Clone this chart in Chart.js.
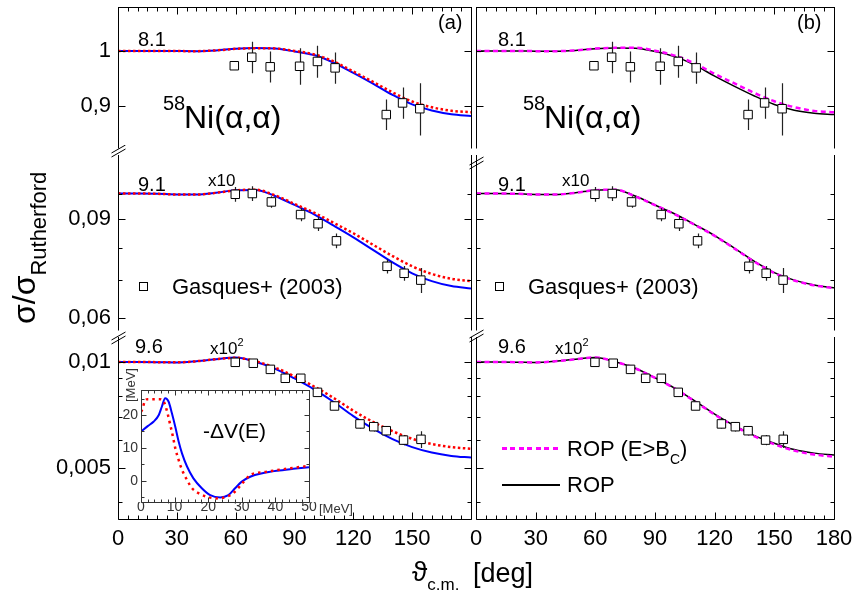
<!DOCTYPE html>
<html>
<head>
<meta charset="utf-8">
<title>58Ni(a,a)</title>
<script src="https://cdn.jsdelivr.net/npm/chart.js@4.4.1/dist/chart.umd.min.js"></script>
<style>
  body { margin: 0; background: #fff; }
  #wrap { position: relative; width: 855px; height: 599px; overflow: hidden;
          font-family: "Liberation Sans", Arial, Helvetica, sans-serif; color: #000; }
  #wrap canvas { position: absolute; }
  .t { position: absolute; white-space: nowrap; line-height: 1; transform: translateY(-50%); }
</style>
</head>
<body>
<div id="wrap"></div>
<script>
// angles of the calculated curves [deg]
const angles = [0, 10, 20, 30, 40, 50, 60, 70, 80, 90, 100, 110, 120, 130, 140, 150, 160, 170, 180];

// panel (a): blue solid and red dotted curves
const a81Blue = [1, 1, 1, 0.9997, 0.9995, 1.001, 1.0042, 1.0055, 1.0045, 0.9991, 0.9921, 0.9776, 0.9587, 0.9392, 0.9192, 0.9025, 0.8921, 0.8857, 0.8827];
const a81Red  = [1, 1, 1, 0.9997, 0.9996, 1.001, 1.0040, 1.0053, 1.0048, 1.0000, 0.9935, 0.9800, 0.9612, 0.9425, 0.9235, 0.9075, 0.8975, 0.8915, 0.8890];
const a91Blue = [0.1, 0.1, 0.0999, 0.0996, 0.0996, 0.1003, 0.1014, 0.1015, 0.0990, 0.0954, 0.0918, 0.0876, 0.0835, 0.0793, 0.0753, 0.0720, 0.0697, 0.0683, 0.0676];
const a91Red  = [0.1, 0.1, 0.0999, 0.0996, 0.0996, 0.1003, 0.1013, 0.1016, 0.0993, 0.0958, 0.0924, 0.0886, 0.0849, 0.0810, 0.0773, 0.0741, 0.0718, 0.0704, 0.0697];
const a96Blue = [0.01, 0.01, 0.00999, 0.00997, 0.01005, 0.01018, 0.01030, 0.01002, 0.00958, 0.00898, 0.00836, 0.00770, 0.00702, 0.00647, 0.00604, 0.00573, 0.00553, 0.00541, 0.00535];
const a96Red  = [0.01, 0.01, 0.00999, 0.00998, 0.01005, 0.01018, 0.01028, 0.01005, 0.00965, 0.00910, 0.00852, 0.00790, 0.00727, 0.00676, 0.00636, 0.00605, 0.00585, 0.00573, 0.00567];

// panel (b): ROP (black) and ROP (E>Bc) (magenta)
const b81Black = [1, 1, 1, 0.9996, 0.9995, 1.001, 1.0044, 1.0058, 1.0053, 0.9991, 0.9892, 0.9731, 0.9527, 0.9342, 0.9171, 0.9023, 0.8925, 0.8874, 0.8851];
const b81Pink  = [1, 1, 1, 0.9996, 0.9995, 1.001, 1.0045, 1.0060, 1.0062, 1.0005, 0.9910, 0.9760, 0.9570, 0.9395, 0.9224, 0.9079, 0.8977, 0.8913, 0.8890];
const b91Black = [0.1, 0.1, 0.0999, 0.0996, 0.0996, 0.1003, 0.1014, 0.1016, 0.0990, 0.0954, 0.0919, 0.0880, 0.0841, 0.0798, 0.0756, 0.0722, 0.0700, 0.0686, 0.0678];
const b91Pink  = [0.1, 0.1, 0.0999, 0.0996, 0.0996, 0.1003, 0.1014, 0.1016, 0.0989, 0.0953, 0.0918, 0.0879, 0.0840, 0.0797, 0.0755, 0.0721, 0.0699, 0.0685, 0.0677];
const b96Black = [0.01, 0.01, 0.00999, 0.00997, 0.01005, 0.01018, 0.01030, 0.01002, 0.00960, 0.00902, 0.00842, 0.00775, 0.00711, 0.00659, 0.00618, 0.00588, 0.00564, 0.00551, 0.00544];
const b96Pink  = [0.01, 0.01, 0.00999, 0.00997, 0.01005, 0.01018, 0.01030, 0.01002, 0.00960, 0.00901, 0.00840, 0.00773, 0.00709, 0.00657, 0.00615, 0.00584, 0.00560, 0.00546, 0.00538];

// Gasques+ (2003) data
const exp81Angle = [59.3, 68.2, 77.6, 92.6, 101.7, 110.7, 136.8, 145.1, 153.9];
const exp81Val   = [0.972, 0.988, 0.970, 0.971, 0.980, 0.968, 0.885, 0.905, 0.895];
const exp81Err   = [0.005, 0.030, 0.029, 0.034, 0.030, 0.029, 0.026, 0.027, 0.045];
const exp91Angle = [59.8, 68.5, 78.2, 93.1, 102.0, 111.4, 137.2, 145.9, 154.4];
const exp91Val   = [0.0997, 0.1000, 0.0966, 0.0917, 0.0883, 0.0823, 0.0741, 0.0720, 0.0700];
const exp91Err   = [0.0030, 0.0030, 0.0023, 0.0025, 0.0026, 0.0025, 0.0022, 0.0022, 0.0036];
const exp96Angle = [59.8, 69.0, 77.7, 85.3, 93.2, 101.7, 110.4, 123.4, 130.4, 136.8, 145.6, 154.5];
const exp96Val   = [0.00998, 0.00992, 0.00953, 0.00899, 0.00899, 0.00820, 0.00750, 0.00667, 0.00655, 0.00638, 0.00600, 0.00603];
const exp96Err   = [0.0002, 0.0002, 0.0002, 0.0002, 0.0002, 0.0002, 0.0002, 0.0002, 0.0002, 0.0002, 0.0002, 0.00033];

// inset -dV(E)
const dvBlueE = [0, 2, 3.8, 5.3, 6.2, 7.2, 8.2, 9.2, 10.2, 11.2, 12.2, 13.7, 15.6, 18.1, 20.6, 23.6, 26.0, 28.0, 30.0, 32.5, 36.4, 40.4, 45.3, 50];
const dvBlue  = [14.9, 16.6, 18.0, 20.0, 22.5, 25.1, 24.1, 20.5, 16.4, 11.9, 8.3, 4.3, 0.7, -2.3, -4.4, -5.1, -4.4, -2.3, -0.3, 1.2, 2.3, 3.0, 3.6, 4.1];
const dvRedE  = [0, 0.3, 1.2, 2.0, 5.5, 6.9, 7.9, 8.7, 9.5, 10.2, 11.2, 12.2, 13.7, 15.2, 17.1, 19.6, 22.5, 25.5, 27.5, 30, 32.5, 37.4, 42.4, 50];
const dvRed   = [21.0, 21.5, 24.3, 24.8, 24.8, 23.8, 20.5, 17.0, 13.4, 9.9, 6.3, 3.3, 0.2, -2.3, -3.8, -4.9, -5.4, -4.9, -3.8, -1.0, 1.7, 2.7, 3.5, 4.5];

// ticks
const xMajor = [0, 30, 60, 90, 120, 150, 180];
const xLabelsA = ['0', '30', '60', '90', '120', '150', ''];
const xLabelsB = ['0', '30', '60', '90', '120', '150', '180'];
const yTicks81 = [1, 0.9], yLabels81 = ['1', '0,9'];
const yTicks91 = [0.09, 0.06], yLabels91 = ['0,09', '0,06'], yMinor91 = [0.1, 0.08, 0.07];
const yTicks96 = [0.01, 0.005], yLabels96 = ['0,01', '0,005'], yMinor96 = [0.009, 0.008, 0.007, 0.006, 0.004];
const dvTicksX = [0, 10, 20, 30, 40, 50], dvLabelsX = ['0', '10', '20', '30', '40', '50'];
const dvTicksY = [0, 10, 20], dvLabelsY = ['0', '10', '20'], dvMinorY = [-5, 5, 15, 25];

const xMinor = [];
for (let v = 5; v < 180; v += 5) if (v % 30) xMinor.push(v);
const dvMinorX = [];
for (let v = 2; v < 50; v += 2) if (v % 10) dvMinorX.push(v);

const wrap = document.getElementById('wrap');
const fam = '"Liberation Sans", Arial, Helvetica, sans-serif';

// frame, inward ticks and axis breaks
const framePlugin = {
  id: 'frame',
  beforeDraw(chart) {
    const o = chart.canvas.$frame, a = chart.chartArea;
    if (o.fill) {
      chart.ctx.fillStyle = '#fff';
      chart.ctx.fillRect(a.left, a.top, a.right - a.left, a.bottom - a.top);
    }
  },
  afterDatasetsDraw(chart) {
    const o = chart.canvas.$frame, a = chart.chartArea, ctx = chart.ctx;
    const x = chart.scales.x, y = chart.scales.y;
    const L = Math.round(a.left) + 0.5, R = Math.round(a.right) + 0.5;
    const T = Math.round(a.top) + 0.5, B = Math.round(a.bottom) + 0.5;
    ctx.save();
    ctx.strokeStyle = o.color || '#000';
    ctx.lineWidth = 1;
    ctx.beginPath();
    ctx.moveTo(L, a.top); ctx.lineTo(L, B);
    ctx.moveTo(R, a.top); ctx.lineTo(R, B);
    if (o.top) { ctx.moveTo(L, T); ctx.lineTo(R, T); }
    if (o.bottom) { ctx.moveTo(L, B); ctx.lineTo(R, B); }
    const yt = (vals, len) => vals.forEach(v => {
      const p = Math.round(y.getPixelForValue(v)) + 0.5;
      ctx.moveTo(L, p); ctx.lineTo(L + len, p);
      ctx.moveTo(R, p); ctx.lineTo(R - len, p);
    });
    const xt = (vals, len) => vals.forEach(v => {
      const p = Math.round(x.getPixelForValue(v)) + 0.5;
      if (o.top) { ctx.moveTo(p, T); ctx.lineTo(p, T + len); }
      if (o.bottom) { ctx.moveTo(p, B); ctx.lineTo(p, B - len); }
    });
    yt(o.yMajor, o.major); yt(o.yMinor, o.minor);
    xt(o.xMajor, o.major); xt(o.xMinor, o.minor);
    if (o.brk != null) {
      const c = a.top + o.brk;
      [-2, 2].forEach(d => { ctx.moveTo(L - 7, c + 4 + d); ctx.lineTo(L + 7, c - 4 + d); });
    }
    ctx.stroke();
    ctx.restore();
  }
};

// error bars of the data points
const errPlugin = {
  id: 'errbars',
  beforeDatasetDraw(chart, args) {
    const ds = chart.data.datasets[args.index];
    if (!ds.err) return;
    const ctx = chart.ctx, y = chart.scales.y;
    ctx.save();
    ctx.strokeStyle = '#222';
    ctx.lineWidth = 1.2;
    ctx.beginPath();
    args.meta.data.forEach((pt, i) => {
      const v = ds.data[i].y, e = ds.err[i];
      const px = Math.round(pt.x) + 0.5;
      ctx.moveTo(px, y.getPixelForValue(v + e));
      ctx.lineTo(px, y.getPixelForValue(v - e));
    });
    ctx.stroke();
    ctx.restore();
  }
};

function xy(xs, ys) { return xs.map((x, i) => ({ x: x, y: ys[i] })); }

function line(xs, ys, color, w, dash, order) {
  return { data: xy(xs, ys), borderColor: color, borderWidth: w, borderDash: dash,
           pointRadius: 0, fill: false, cubicInterpolationMode: 'monotone', order: order };
}

function pts(xs, ys, err) {
  return { data: xy(xs, ys), err: err, showLine: false, pointStyle: 'rect', pointRadius: 6,
           pointBorderWidth: 1, pointBorderColor: '#000', pointBackgroundColor: '#fff', order: 0 };
}

function makeChart(p) {
  const cv = document.createElement('canvas');
  cv.width = p.w; cv.height = p.h;
  cv.style.left = p.left + 'px'; cv.style.top = p.top + 'px';
  cv.style.width = p.w + 'px'; cv.style.height = p.h + 'px';
  cv.$frame = p.frame;
  wrap.appendChild(cv);
  const xh = p.xLabels ? p.xh : 0;
  return new Chart(cv, {
    type: 'line',
    data: { datasets: p.datasets },
    options: {
      responsive: false, animation: false, devicePixelRatio: 1, events: [],
      layout: { padding: p.pad },
      plugins: { legend: { display: false }, tooltip: { enabled: false } },
      scales: {
        x: {
          type: 'linear', min: p.xr[0], max: p.xr[1], display: !!p.xLabels,
          afterBuildTicks: s => { s.ticks = p.xTicks.map(v => ({ value: v })); },
          afterFit: s => { s.height = xh; s.paddingLeft = 0; s.paddingRight = 0; },
          grid: { display: false, drawTicks: false }, border: { display: false },
          ticks: { autoSkip: false, maxRotation: 0, padding: p.xpad, color: p.tc || '#000',
                   font: { family: fam, size: p.fs },
                   callback: (v, i) => p.xLabels ? p.xLabels[i] : '' }
        },
        y: {
          type: p.ylog ? 'logarithmic' : 'linear', min: p.yr[0], max: p.yr[1], display: !!p.yLabels,
          afterBuildTicks: s => { s.ticks = p.yTicks.map(v => ({ value: v })); },
          afterFit: s => { s.width = p.yLabels ? p.yw : 0; s.paddingTop = 0; s.paddingBottom = 0; },
          grid: { display: false, drawTicks: false }, border: { display: false },
          ticks: { autoSkip: false, padding: p.ypad, color: p.tc || '#000',
                   font: { family: fam, size: p.fs },
                   callback: (v, i) => p.yLabels ? p.yLabels[i] : '' }
        }
      }
    },
    plugins: [framePlugin, errPlugin]
  });
}

// three stacked segments of the broken log axis
const segs = [
  { top: 0, h: 155, padTop: 2, yr: [0.8315, 1.088], yT: yTicks81, yL: yLabels81, yM: [],
    a: [a81Blue, a81Red], b: [b81Black, b81Pink], ex: [exp81Angle, exp81Val, exp81Err],
    frameTop: true, brkA: null, brkB: null },
  { top: 145, h: 192, padTop: 10, yr: [0.05723, 0.1172], yT: yTicks91, yL: yLabels91, yM: yMinor91,
    a: [a91Blue, a91Red], b: [b91Black, b91Pink], ex: [exp91Angle, exp91Val, exp91Err],
    brkA: -4, brkB: 8 },
  { top: 327, h: 272, padTop: 10, yr: [0.003581, 0.011777], yT: yTicks96, yL: yLabels96, yM: yMinor96,
    a: [a96Blue, a96Red], b: [b96Black, b96Pink], ex: [exp96Angle, exp96Val, exp96Err],
    bottom: true, brkA: 1, brkB: -1 }
];

segs.forEach(s => {
  const frame = { top: !!s.frameTop, bottom: !!s.bottom, yMajor: s.yT, yMinor: s.yM,
                  xMajor: xMajor, xMinor: xMinor, major: 7, minor: 4 };
  // panel (a)
  makeChart({
    left: 0, top: s.top, w: 478, h: s.h, pad: { top: s.padTop, right: 2, left: 0, bottom: 0 },
    xr: [0, 180], xTicks: xMajor, xLabels: s.bottom ? xLabelsA : null, xh: 80, xpad: 7,
    ylog: true, yr: s.yr, yTicks: s.yT, yLabels: s.yL, yw: 118, ypad: 7, fs: 22,
    frame: Object.assign({ brk: s.brkA }, frame),
    datasets: [
      pts(s.ex[0], s.ex[1], s.ex[2]),
      line(angles, s.a[1], '#ff0000', 2.5, [2.5, 2.5], 1),
      line(angles, s.a[0], '#0000ff', 2, [], 2)
    ]
  });
  // panel (b)
  makeChart({
    left: 440, top: s.top, w: 415, h: s.h, pad: { top: s.padTop, right: 21, left: 36, bottom: 0 },
    xr: [0, 180], xTicks: xMajor, xLabels: s.bottom ? xLabelsB : null, xh: 80, xpad: 7,
    ylog: true, yr: s.yr, yTicks: s.yT, yLabels: null, fs: 22,
    frame: Object.assign({ brk: s.brkB }, frame),
    datasets: [
      pts(s.ex[0], s.ex[1], s.ex[2]),
      line(angles, s.b[1], '#ff00ff', 2.5, [5, 3.5], 1),
      line(angles, s.b[0], '#000000', 1.5, [], 2)
    ]
  });
});

// inset -dV(E)
makeChart({
  left: 100, top: 380, w: 260, h: 140, pad: { top: 10, right: 51, left: 0, bottom: 0 },
  xr: [0, 50], xTicks: dvTicksX, xLabels: dvLabelsX, xh: 18, xpad: -3,
  ylog: false, yr: [-6.5, 27.6], yTicks: dvTicksY, yLabels: dvLabelsY, yw: 41, ypad: 3,
  fs: 14, tc: '#333',
  frame: { fill: true, top: true, bottom: true, color: '#333', yMajor: dvTicksY, yMinor: dvMinorY,
           xMajor: dvTicksX, xMinor: dvMinorX, major: 5, minor: 3 },
  datasets: [
    line(dvRedE, dvRed, '#ff0000', 2.5, [2.5, 4], 1),
    line(dvBlueE, dvBlue, '#0000ff', 2, [], 2)
  ]
});

// texts
function T(html, x, y, size, css) {
  const d = document.createElement('div');
  d.className = 't';
  d.innerHTML = html;
  d.style.left = x + 'px';
  d.style.top = y + 'px';
  d.style.fontSize = size + 'px';
  if (css) d.style.cssText += css;
  wrap.appendChild(d);
  return d;
}
function box(x, y) {
  const d = document.createElement('div');
  d.style.cssText = 'position:absolute;width:7px;height:7px;border:1px solid #000;background:#fff;' +
                    'left:' + (x - 4) + 'px;top:' + (y - 4) + 'px;';
  wrap.appendChild(d);
}
const sup2 = '<span style="font-size:11px;position:relative;top:-8px">2</span>';

[[0, '(a)', 438], [360, '(b)', 797]].forEach(([dx, tag, tagX]) => {
  T('8.1', 138 + dx, 39, 20);
  T(tag, tagX, 22, 20);
  T('58', 163 + dx, 103, 20);
  T('Ni(\u03b1,\u03b1)', 184 + dx, 117, 32);
  T('9.1', 138 + dx, 184, 20);
  T('x10', 208 + dx - (dx ? 6 : 0), 180, 17);
  box(143 + dx - (dx ? 4 : 0), 286);
  T('Gasques+ (2003)', 172 + dx - (dx ? 4 : 0), 287, 22);
  T('9.6', 135 + dx + (dx ? 3 : 0), 346, 20);
  T('x10' + sup2, 210 + dx - (dx ? 15 : 0), 348, 17);
});

T('-\u0394V(E)', 203, 430, 21);
T('[MeV]', 319, 508, 13, 'color:#333');
T('[MeV]', 124, 402, 13, 'color:#333;transform:rotate(-90deg);transform-origin:0 0;');

// legend of panel (b)
const dashSample = document.createElement('div');
dashSample.style.cssText = 'position:absolute;left:502px;top:447px;width:58px;height:2.5px;' +
  'background:repeating-linear-gradient(90deg,#ff00ff 0 5px,transparent 5px 8.5px);';
wrap.appendChild(dashSample);
const solidSample = document.createElement('div');
solidSample.style.cssText = 'position:absolute;left:502px;top:484px;width:58px;height:1.5px;background:#000;';
wrap.appendChild(solidSample);
T('ROP (E&gt;B<span style="font-size:14px;position:relative;top:8px">C</span>)', 567, 449, 22);
T('ROP', 567, 485, 22);

// axis titles
T('\u03c3/\u03c3<span style="font-size:22px;position:relative;top:11px">Rutherford</span>', 8, 324, 32,
  'transform:rotate(-90deg);transform-origin:0 0;');
T('\u03d1<span style="font-size:17px;position:relative;top:9px">c.m.</span>', 412, 572, 28);
T('[deg]', 473, 573, 27);
</script>
</body>
</html>
